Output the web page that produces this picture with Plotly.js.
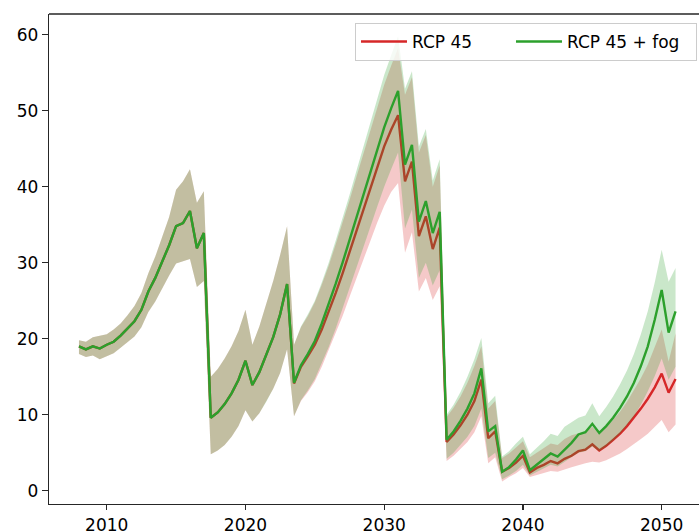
<!DOCTYPE html>
<html>
<head>
<meta charset="utf-8">
<script src="https://cdn.plot.ly/plotly-3.0.1.min.js"></script>
<style>
html,body{margin:0;padding:0;background:#fff;}
#chart{width:699px;height:531px;}
</style>
</head>
<body>
<div id="chart"></div>
<script>
const years = [2008,2008.5,2009,2009.5,2010,2010.5,2011,2011.5,2012,2012.5,2013,2013.5,2014,2014.5,2015,2015.5,2016,2016.5,2017,
2017.5,2018,2018.5,2019,2019.5,2020,2020.5,2021,2021.5,2022,2022.5,2023,
2023.5,2024,2024.5,2025,2025.5,2026,2026.5,2027,2027.5,2028,2028.5,2029,2029.5,2030,2030.5,2031,
2031.5,2032,2032.5,2033,2033.5,2034,
2034.5,2035,2035.5,2036,2036.5,2037,2037.5,2038,
2038.5,2039,2039.5,2040,2040.5,2041,2041.5,2042,2042.5,2043,2043.5,2044,2044.5,2045,2045.5,2046,2046.5,2047,2047.5,2048,2048.5,2049,2049.5,2050,2050.5,2051];

const rcpMean = [19.0,18.6,19.0,18.7,19.2,19.6,20.4,21.3,22.3,23.8,26.2,28.0,30.2,32.3,34.8,35.2,36.8,31.9,33.9,
9.6,10.3,11.4,12.8,14.6,17.1,13.9,15.6,17.8,20.2,23.2,27.2,
14.1,16.3,17.7,19.2,21.2,23.5,26.0,28.6,31.4,34.2,37.0,39.8,42.6,45.3,47.5,49.4,
40.7,43.3,33.5,36.1,31.8,34.6,
6.4,7.4,8.6,10.0,11.8,14.6,6.9,7.8,
2.5,3.0,3.7,4.6,2.4,3.0,3.4,3.9,3.6,4.2,4.6,5.2,5.4,6.1,5.3,5.9,6.7,7.5,8.5,9.6,10.8,12.1,13.6,15.4,12.9,14.7];

const rcpHigh = [19.8,19.6,20.2,20.4,20.6,21.2,22.0,23.1,24.3,26.0,28.6,30.8,33.4,36.0,39.6,40.7,42.3,37.9,39.4,
15.0,16.0,17.4,19.0,21.0,23.8,19.2,21.6,24.5,27.6,31.0,34.8,
19.2,21.5,23.0,24.8,27.1,29.6,32.4,35.2,38.2,41.3,44.4,47.5,50.5,53.4,55.9,58.2,
52.1,54.4,44.5,46.8,40.0,42.8,
9.7,10.9,12.4,14.2,16.4,19.0,10.8,11.8,
4.3,4.9,5.7,6.5,4.4,5.0,5.6,6.2,6.0,6.8,7.3,7.6,7.8,8.4,7.5,8.3,9.3,10.4,11.7,13.2,14.8,16.6,18.8,21.2,17.0,20.7];

const rcpLow = [18.0,17.6,17.8,17.3,17.7,18.1,18.8,19.5,20.3,21.5,23.5,24.9,26.6,28.3,29.9,30.2,30.5,26.8,27.6,
4.8,5.3,6.0,7.1,8.5,10.6,9.1,10.2,11.7,13.4,15.5,18.6,
9.8,11.8,13.0,14.4,16.3,18.4,20.7,23.0,25.5,28.0,30.4,32.9,35.3,37.5,39.3,40.5,
31.3,34.0,26.2,28.0,25.1,26.9,
3.9,4.6,5.5,6.4,7.7,9.8,3.6,4.4,
1.2,1.8,2.3,3.0,1.8,2.0,2.3,2.6,2.5,2.8,3.1,3.4,3.6,3.8,3.7,4.0,4.4,4.9,5.5,6.1,6.8,7.5,8.4,9.3,7.7,8.7];

const fogMean = [19.0,18.6,19.0,18.7,19.2,19.6,20.4,21.3,22.3,23.8,26.2,28.0,30.2,32.3,34.8,35.2,36.8,31.9,33.9,
9.6,10.3,11.4,12.8,14.6,17.1,13.9,15.6,17.8,20.2,23.2,27.2,
14.2,16.5,18.0,19.7,22.0,24.5,27.2,30.0,33.0,36.0,39.0,42.0,45.0,47.8,50.3,52.6,
42.9,45.5,35.4,38.1,33.9,36.7,
6.7,7.8,9.2,10.8,12.8,16.1,7.8,8.5,
2.5,3.1,4.1,5.3,2.7,3.4,4.1,4.9,4.5,5.4,6.3,7.4,7.7,8.8,7.6,8.5,9.6,10.9,12.4,14.2,16.4,19.0,22.5,26.4,20.8,23.6];

const fogHigh = [19.8,19.6,20.2,20.4,20.6,21.2,22.0,23.1,24.3,26.0,28.6,30.8,33.4,36.0,39.6,40.7,42.3,37.9,39.4,
15.0,16.0,17.4,19.0,21.0,23.8,19.2,21.6,24.5,27.6,31.0,34.8,
19.2,21.6,23.2,25.0,27.4,30.0,32.9,35.8,38.9,42.1,45.3,48.5,51.7,54.7,57.3,59.8,
52.9,55.2,45.3,47.6,40.8,43.6,
10.0,11.3,13.0,15.0,17.3,20.1,11.5,12.5,
4.5,5.2,6.2,7.1,4.8,5.6,6.5,7.5,7.2,8.4,9.0,9.6,9.9,11.5,9.8,11.0,12.4,14.0,15.8,18.0,20.6,23.6,27.4,31.7,27.5,29.3];

const fogLow = [18.0,17.6,17.8,17.3,17.7,18.1,18.8,19.5,20.3,21.5,23.5,24.9,26.6,28.3,29.9,30.2,30.5,26.8,27.6,
4.8,5.3,6.0,7.1,8.5,10.6,9.1,10.2,11.7,13.4,15.5,18.6,
9.8,11.9,13.2,14.7,16.7,18.9,21.3,23.8,26.5,29.2,31.9,34.7,37.4,40.0,42.3,44.5,
34.5,37.0,28.0,30.0,27.0,29.0,
4.2,5.0,6.0,7.1,8.5,10.8,4.3,5.0,
1.5,2.0,2.6,3.4,2.0,2.4,2.9,3.4,3.2,3.8,4.4,5.0,5.2,5.8,5.2,5.8,6.6,7.5,8.6,9.8,11.3,13.1,15.1,17.4,14.6,16.3];

const seriesNames = ['RCP 45', 'RCP 45 + fog'];
const xTicks = [2010, 2020, 2030, 2040, 2050];
const yTicks = [0, 10, 20, 30, 40, 50, 60];

const RED = '#d62728', GREEN = '#2ca02c';
const FONT = 'DejaVu Sans, sans-serif';

function band(lo, hi, color) {
  const rev = years.slice().reverse();
  return {
    x: years.concat(rev),
    y: hi.concat(lo.slice().reverse()),
    type: 'scatter', mode: 'lines', fill: 'toself',
    fillcolor: color, line: {width: 0, color: color},
    hoverinfo: 'skip', showlegend: false
  };
}
function line(y, color, name, lw) {
  return {x: years, y: y, type: 'scatter', mode: 'lines', name: name,
          legendwidth: lw, line: {color: color, width: 2.4}};
}

const data = [
  band(rcpLow, rcpHigh, 'rgba(214,39,40,0.25)'),
  line(rcpMean, RED, seriesNames[0], 94),
  band(fogLow, fogHigh, 'rgba(44,160,44,0.25)'),
  line(fogMean, GREEN, seriesNames[1], 124)
];

const axisCol = '#262626';
const layout = {
  width: 699, height: 531,
  margin: {l: 49, r: 0, t: 14, b: 27, pad: 0},
  paper_bgcolor: '#fff', plot_bgcolor: '#fff',
  font: {family: FONT, size: 17, color: '#000'},
  showlegend: true,
  legend: {
    orientation: 'h', x: 0.9969, xanchor: 'right', y: 0.9816, yanchor: 'top',
    itemwidth: 46,
    bgcolor: 'rgba(255,255,255,0.8)', bordercolor: '#cccccc', borderwidth: 1,
    font: {family: FONT, size: 17, color: '#000'}
  },
  xaxis: {
    range: [2005.84, 2052.69], tickvals: xTicks, ticktext: xTicks.map(String),
    showline: true, linecolor: axisCol, linewidth: 1.3,
    ticks: 'outside', ticklen: 5, tickwidth: 1.2, tickcolor: axisCol,
    showgrid: false, zeroline: false, tickfont: {family: FONT, size: 17, color: '#000'}
  },
  yaxis: {
    range: [-1.75, 62.72], tickvals: yTicks, ticktext: yTicks.map(String),
    showline: true, linecolor: axisCol, linewidth: 1.3,
    ticks: 'outside', ticklen: 6, tickwidth: 1.2, tickcolor: axisCol,
    showgrid: false, zeroline: false, tickfont: {family: FONT, size: 17, color: '#000'}
  },
  shapes: [{type: 'line', xref: 'paper', yref: 'paper', x0: 0, x1: 1, y0: 1, y1: 1,
            line: {color: axisCol, width: 1.3}}]
};

Plotly.newPlot('chart', data, layout, {displayModeBar: false, staticPlot: true});
</script>
</body>
</html>
